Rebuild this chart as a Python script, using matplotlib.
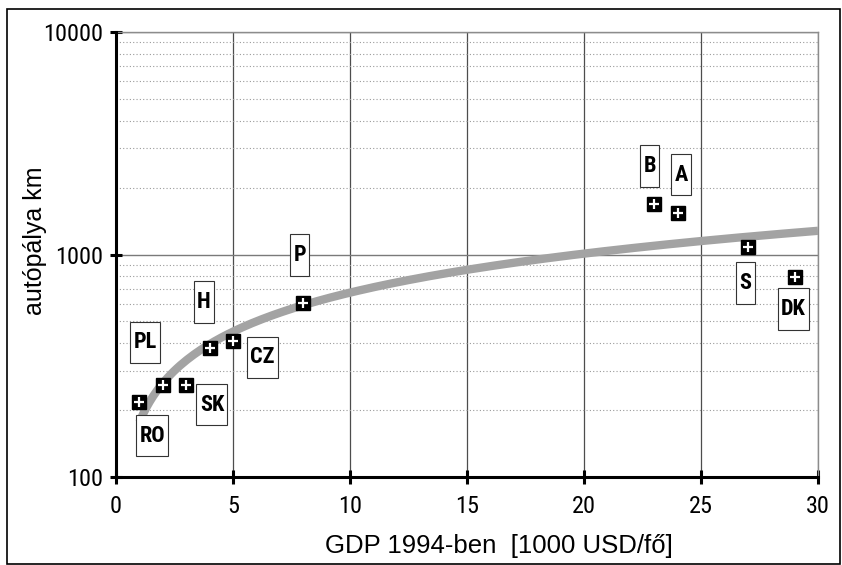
import matplotlib

matplotlib.use("Agg")
import matplotlib.pyplot as plt
import numpy as np
from matplotlib.patches import Rectangle
from matplotlib.path import Path
from matplotlib.ticker import FixedLocator, LogLocator, NullFormatter

NARROW = ["Roboto Condensed", "Archivo Narrow", "DejaVu Sans"]
plt.rcParams["font.family"] = ["Liberation Sans", "DejaVu Sans"]

# GDP 1994 (1000 USD/fő) and motorway length (km)
gdp = [1, 2, 3, 4, 5, 8, 23, 24, 27, 29]
km = [217, 259, 259, 380, 408, 605, 1687, 1537, 1081, 792]

# country labels and where their boxes sit (data coordinates)
labels = ["RO", "PL", "H", "SK", "CZ", "P", "B", "A", "S", "DK"]
label_x = [1.55, 1.25, 3.75, 4.1, 6.25, 7.85, 22.8, 24.15, 26.9, 28.95]
label_y = [153, 404, 612, 211, 346, 995, 2500, 2280, 745, 569]


def tall_box(x0, y0, width, height, mutation_size):
    # narrow, tall label box like the spreadsheet's data labels
    padx = 0.15 * mutation_size
    h = 1.85 * mutation_size
    cy = y0 + height / 2
    left, right = x0 - padx, x0 + width + padx
    return Path([(left, cy - h / 2), (right, cy - h / 2), (right, cy + h / 2),
                 (left, cy + h / 2), (left, cy - h / 2)], closed=True)


fig = plt.figure(figsize=(8.42, 5.65), dpi=100)
ax = fig.add_axes([116 / 842, 88 / 565, 702 / 842, 445 / 565])
fig.patches.append(Rectangle((7 / 842, 1 / 565), 833 / 842, 555 / 565, transform=fig.transFigure,
                             fill=False, edgecolor="black", linewidth=1.2))

ax.set_yscale("log")
ax.set_xlim(0, 30)
ax.set_ylim(100, 10000)

# power trendline fitted to the data (as in the original spreadsheet chart)
k, lna = np.polyfit(np.log(gdp), np.log(km), 1)
xs = np.linspace(1, 30, 200)
ax.plot(xs, np.exp(lna) * xs ** k, color="#a3a3a3", linewidth=6, solid_capstyle="butt", zorder=3)

ax.plot(gdp, km, linestyle="none", marker="s", markersize=9.5, color="black", zorder=5)
ax.plot(gdp, km, linestyle="none", marker="+", markersize=7.5, markeredgewidth=1.6, color="white", zorder=6)

for name, lx, ly in zip(labels, label_x, label_y):
    ax.text(lx, ly, name, ha="center", va="center", fontsize=16, fontweight="bold", family=NARROW, zorder=7,
            bbox=dict(boxstyle=tall_box, facecolor="white", edgecolor="#333333", linewidth=0.8))

# grid
ax.xaxis.set_major_locator(FixedLocator([0, 5, 10, 15, 20, 25, 30]))
ax.yaxis.set_major_locator(FixedLocator([100, 1000, 10000]))
ax.yaxis.set_minor_locator(LogLocator(base=10, subs=np.arange(2, 10)))
ax.yaxis.set_minor_formatter(NullFormatter())
ax.set_yticklabels(["100", "1000", "10000"])
ax.grid(axis="x", which="major", color="#4d4d4d", linewidth=0.9)
ax.grid(axis="y", which="major", color="#7a7a7a", linewidth=1.0)
ax.grid(axis="y", which="minor", color="#9a9a9a", linestyle=(0, (1, 2)), linewidth=0.8)
ax.set_axisbelow(True)

for side in ["top", "right"]:
    ax.spines[side].set_color("#8c8c8c")
    ax.spines[side].set_linewidth(1.0)
for side in ["left", "bottom"]:
    ax.spines[side].set_color("black")
    ax.spines[side].set_linewidth(2.2)
    ax.spines[side].set_zorder(8)

ax.tick_params(axis="x", which="major", direction="inout", length=10, width=2.2, pad=8, labelsize=17.5)
ax.tick_params(axis="y", which="major", direction="inout", length=8, width=2.2, pad=5, labelsize=17.5)
ax.tick_params(axis="y", which="minor", length=0)
for lbl in ax.get_xticklabels() + ax.get_yticklabels():
    lbl.set_family(NARROW)

ax.set_xlabel("GDP 1994-ben  [1000 USD/fő]", fontsize=18.5)
ax.set_ylabel("autópálya km", fontsize=18)
ax.xaxis.set_label_coords(0.546, -0.128)
ax.yaxis.set_label_coords(-0.098, 0.53)

fig.savefig("out.png", dpi=100)
